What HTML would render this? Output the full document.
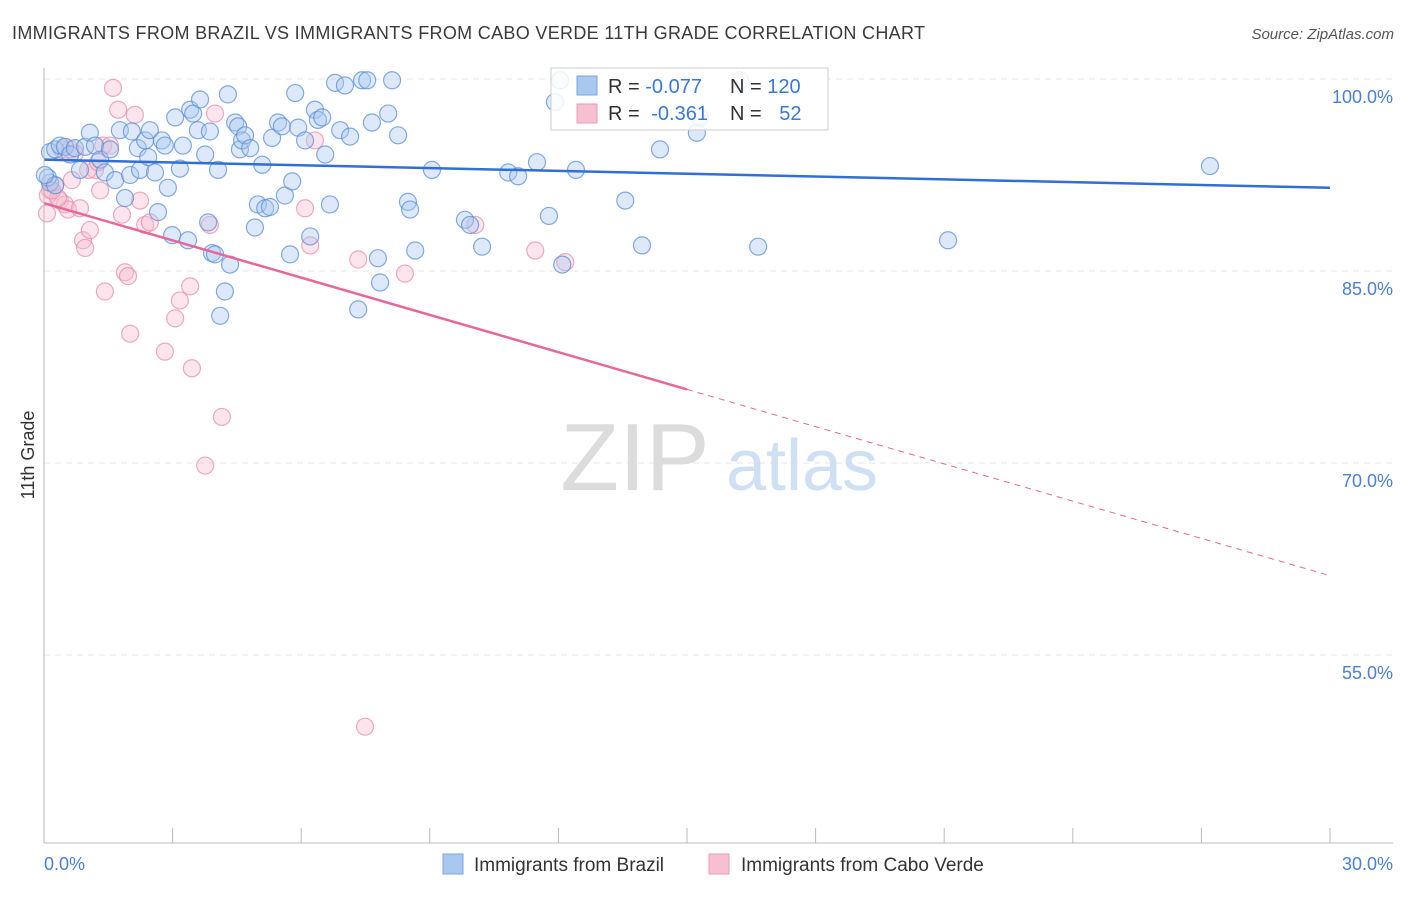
<!DOCTYPE html>
<html><head><meta charset="utf-8"><style>
body{margin:0;background:#fff;font-family:"Liberation Sans",sans-serif;}
svg text{font-family:"Liberation Sans",sans-serif;}
</style></head><body>
<svg id="chart" width="1406" height="892" viewBox="0 0 1406 892" xmlns="http://www.w3.org/2000/svg">
<text x="12" y="39" font-size="18" fill="#3a3a3a" textLength="913" lengthAdjust="spacing">IMMIGRANTS FROM BRAZIL VS IMMIGRANTS FROM CABO VERDE 11TH GRADE CORRELATION CHART</text>
<text x="1394" y="39" font-size="15" fill="#555" text-anchor="end" font-style="italic">Source: ZipAtlas.com</text>
<text transform="translate(34,455) rotate(-90)" font-size="18" fill="#333" text-anchor="middle">11th Grade</text>
<g id="grid"></g>
<g><text x="635" y="490" font-size="96" fill="#dcdcdc" font-family="Liberation Serif" text-anchor="middle">ZIP</text><text x="802" y="490" font-size="72" fill="#cfe0f5" text-anchor="middle">atlas</text></g>
<g id="pts-pink"></g>
<g id="pts-blue"></g>
<g id="trends"></g>
<g id="axes"></g>
<g>
<rect x="551" y="68" width="277" height="62" fill="#fff" fill-opacity="0.85" stroke="#ccc"/>
<rect x="577" y="76" width="20" height="19" fill="#a9c8f0" stroke="#7aa5e0"/>
<rect x="577" y="104" width="20" height="19" fill="#f7c0d0" stroke="#eb9ab3"/>
<text x="608" y="93" font-size="20" fill="#333">R = <tspan fill="#3a78d6">-0.077</tspan></text>
<text x="730" y="93" font-size="20" fill="#333">N = <tspan fill="#3a78d6">120</tspan></text>
<text x="608" y="120" font-size="20" fill="#333">R = <tspan fill="#3a78d6" dx="6">-0.361</tspan></text>
<text x="730" y="120" font-size="20" fill="#333">N = <tspan fill="#3a78d6" dx="12">52</tspan></text>
</g>
<g>
<rect x="443" y="854" width="20" height="20" fill="#a9c8f0" stroke="#7aa5e0"/>
<text x="474" y="871" font-size="19" fill="#333">Immigrants from Brazil</text>
<rect x="709" y="854" width="20" height="20" fill="#f7c0d0" stroke="#eb9ab3"/>
<text x="741" y="871" font-size="19" fill="#333">Immigrants from Cabo Verde</text>
</g>
</svg>
<script>
const yTicks=[100,85,70,55];
const yTickLabels=["100.0%","85.0%","70.0%","55.0%"];
const xTickLabels=["0.0%","30.0%"];
const blueX=[0.14,0.26,0.37,0.49,0.61,0.72,0.84,0.96,1.07,1.19,1.31,1.42,1.54,1.66,1.77,1.89,2.01,2.05,2.19,2.24,2.36,2.43,2.47,2.59,2.66,2.75,2.82,2.89,2.99,3.06,3.17,3.24,3.36,3.41,3.48,3.59,3.64,3.76,3.83,3.87,3.92,3.99,4.06,4.11,4.22,4.29,4.34,4.46,4.53,4.57,4.62,4.69,4.81,4.92,4.99,5.09,5.16,5.27,5.32,5.46,5.55,5.62,5.74,5.79,5.86,5.93,6.09,6.21,6.32,6.39,6.49,6.56,6.67,6.79,6.91,7.02,7.14,7.33,7.42,7.54,7.65,7.79,7.84,8.03,8.12,8.26,8.49,8.54,8.66,9.05,9.82,9.94,10.22,10.83,11.06,11.5,11.78,11.92,12.04,12.09,12.41,13.56,13.95,14.37,15.23,15.3,16.24,16.66,21.09,27.2,0.14,0.09,0.26,0.02];
const blueY=[94.3,94.5,94.8,94.7,94.1,94.6,92.9,94.7,95.8,94.8,93.7,92.7,94.5,92.1,96.0,90.7,92.5,95.9,94.6,92.9,95.2,93.9,96.0,92.7,89.6,95.2,94.8,91.5,87.8,97.0,93.0,94.8,87.4,97.6,97.3,96.0,98.4,94.1,88.8,95.9,86.4,86.3,92.9,81.5,83.4,98.8,85.5,96.6,96.3,94.5,95.2,95.6,94.6,88.4,90.2,93.3,89.9,90.0,95.4,96.6,96.3,90.9,86.3,92.0,98.9,96.2,95.2,87.7,97.6,96.8,97.0,94.1,90.2,99.7,96.0,99.5,95.5,82.0,99.9,99.9,96.6,86.0,84.1,97.3,99.9,95.6,90.4,89.8,86.6,92.9,89.0,88.6,86.9,92.7,92.4,93.5,89.3,98.2,99.9,85.5,92.9,90.5,87.0,94.5,95.8,97.0,99.9,86.9,87.4,93.2,91.9,92.3,91.7,92.5];
const pinkX=[0.07,0.14,0.26,0.37,0.49,0.56,0.65,0.72,0.84,0.91,0.96,1.07,1.19,1.31,1.38,1.42,1.54,1.61,1.73,1.82,1.89,1.96,2.01,2.12,2.24,2.36,2.47,2.82,3.06,3.17,3.41,3.45,3.87,3.99,4.15,3.76,6.09,6.21,6.32,7.33,7.49,8.42,10.06,11.46,12.16,0.09,0.33,0.42,0.61,1.03,1.26,0.19];
const pinkY=[89.5,91.3,91.7,90.5,90.2,89.8,92.1,94.2,89.9,87.4,86.8,88.2,92.9,91.3,94.8,83.4,94.8,99.3,97.6,89.4,84.9,84.6,80.1,97.2,90.5,88.6,88.8,78.7,81.3,82.7,83.8,77.4,88.6,97.3,73.6,69.8,89.9,87.0,95.2,85.9,49.4,84.8,88.6,86.6,85.7,90.9,90.7,94.5,94.5,92.9,93.5,91.3];
const blueTrend=[93.7,91.5];
const pinkTrend=[90.3,61.2];
const pinkSolidEnd=15.0;

const NS="http://www.w3.org/2000/svg";
const X0=44,X1=1330,Y100=79,PXPER=12.8;
const sx=v=>X0+(v/30)*(X1-X0);
const sy=v=>Y100+(100-v)*PXPER;
function mk(tag,attrs,parent){const e=document.createElementNS(NS,tag);for(const k in attrs)e.setAttribute(k,attrs[k]);parent.appendChild(e);return e;}
const grid=document.getElementById('grid'),axes=document.getElementById('axes');
yTicks.forEach((t,i)=>{
  const l=mk('line',{x1:X0,x2:1393,y1:sy(t),y2:sy(t),stroke:'#e6e6e6','stroke-dasharray':'6,5'},grid);
  
  
  const tx=mk('text',{x:1393,y:sy(t)+24,'font-size':18,fill:'#4a7fd0','text-anchor':'end'},axes);
  tx.textContent=yTickLabels[i];
  
  
});
const ya=mk('line',{x1:X0,x2:X0,y1:68,y2:843,stroke:'#bbb'},axes);


const xa=mk('line',{x1:X0,x2:1393,y1:843,y2:843,stroke:'#bbb'},axes);


for(let i=0;i<=10;i++){const x=sx(i*3);
  const tk=mk('line',{x1:x,x2:x,y1:828,y2:843,stroke:'#bbb'},axes);
  
  }
[[0,'start',44],[30,'end',1393]].forEach((d,i)=>{
  const t=mk('text',{x:d[2],y:870,'font-size':18,fill:'#4a7fd0','text-anchor':d[1]},axes);
  t.textContent=xTickLabels[i];
  
  });
function pts(xs,ys,g,fill,stroke,name){xs.forEach((x,i)=>{
  const c=mk('circle',{cx:sx(x),cy:sy(ys[i]),r:8.5,fill:fill,'fill-opacity':0.4,stroke:stroke,'stroke-opacity':0.75,'stroke-width':1.2},g);
  
  });}
pts(pinkX,pinkY,document.getElementById('pts-pink'),'#f7bfd0','#e98fac','cabo-verde-point');
pts(blueX,blueY,document.getElementById('pts-blue'),'#a9c8f0','#5b8fd9','brazil-point');
const tr=document.getElementById('trends');
const bl=mk('line',{x1:sx(0),y1:sy(blueTrend[0]),x2:sx(30),y2:sy(blueTrend[1]),stroke:'#2f6fd6','stroke-width':2.5},tr);


const pm=pinkTrend[0]+(pinkTrend[1]-pinkTrend[0])*pinkSolidEnd/30;
const pl=mk('line',{x1:sx(0),y1:sy(pinkTrend[0]),x2:sx(pinkSolidEnd),y2:sy(pm),stroke:'#e8679a','stroke-width':2.5},tr);


const pd=mk('line',{x1:sx(pinkSolidEnd),y1:sy(pm),x2:sx(30),y2:sy(pinkTrend[1]),stroke:'#e8679a','stroke-width':1,'stroke-dasharray':'6,5'},tr);


</script>
</body></html>
